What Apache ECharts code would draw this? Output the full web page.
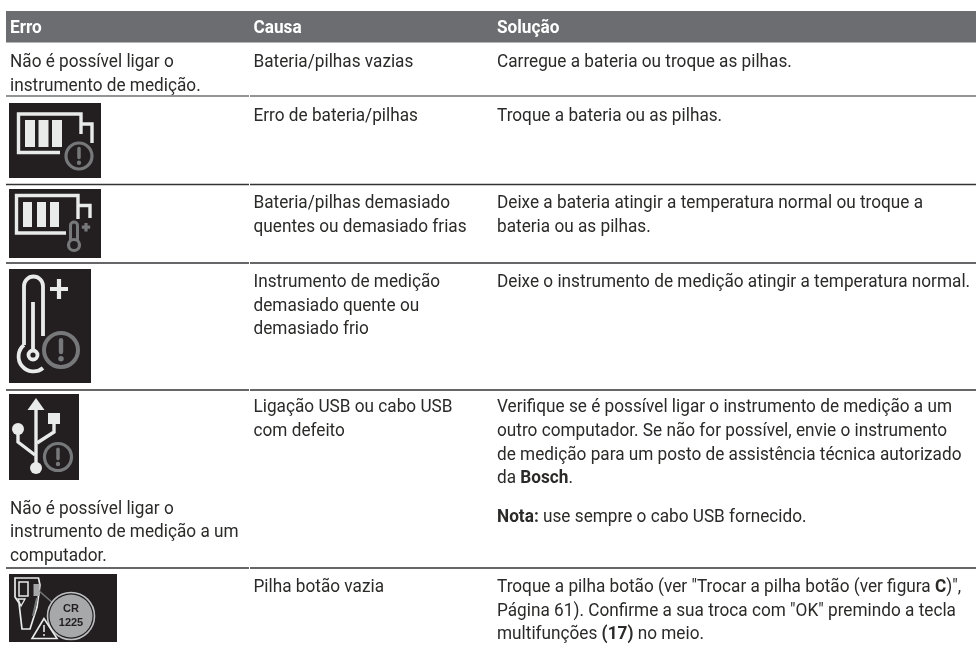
<!DOCTYPE html>
<html>
<head>
<meta charset="utf-8">
<title>Erro / Causa / Solução</title>
<script src="https://cdn.jsdelivr.net/npm/echarts@6/dist/echarts.min.js"></script>
<style>
html, body { margin: 0; padding: 0; background: #fff; }
#main { width: 976px; height: 645px; }
</style>
</head>
<body>
<div id="main"></div>
<script>
var headers = ['Erro', 'Causa', 'Solução'];
var errors = [
	'Não é possível ligar o\ninstrumento de medição.',
	'',
	'',
	'',
	'Não é possível ligar o\ninstrumento de medição a um\ncomputador.',
	''
];
var causes = [
	'Bateria/pilhas vazias',
	'Erro de bateria/pilhas',
	'Bateria/pilhas demasiado\nquentes ou demasiado frias',
	'Instrumento de medição\ndemasiado quente ou\ndemasiado frio',
	'Ligação USB ou cabo USB\ncom defeito',
	'Pilha botão vazia'
];
var solutions = [
	'Carregue a bateria ou troque as pilhas.',
	'Troque a bateria ou as pilhas.',
	'Deixe a bateria atingir a temperatura normal ou troque a\nbateria ou as pilhas.',
	'Deixe o instrumento de medição atingir a temperatura normal.',
	'Verifique se é possível ligar o instrumento de medição a um\noutro computador. Se não for possível, envie o instrumento\nde medição para um posto de assistência técnica autorizado\nda {b|Bosch}.',
	'Troque a pilha botão (ver "Trocar a pilha botão (ver figura {b|C})",\nPágina 61). Confirme a sua troca com "OK" premindo a tecla\nmultifunções {b|(17)} no meio.'
];
var usbNote = '{b|Nota:} use sempre o cabo USB fornecido.';

// layout
var colX = [10, 253.5, 497];
var ruleY = [96, 184.5, 263, 390, 568];
var rowTextY = [50.6, 104.6, 191.8, 270.8, 396, 575.6];
var errorTextY = { 0: 50.6, 4: 497.2 };
var LINE = 23.6;
var FONT = 'Roboto';
var SIZE = 18.5;
var SQUEEZE = 0.93;
var INK = '#2b2a29';
var LIGHT = '#e9eaea';
var GREY = '#77787a';
var DARK = '#231f20';

var gfx = [];   // text, through the graphic component
var marks = []; // band, rules and icons, through a custom series

function addText(x, y, str, fill, bold) {
	gfx.push({
		type: 'text', x: x, y: y, scaleX: SQUEEZE, originX: 0, z: 5,
		style: {
			text: str, x: 0, y: 0, fill: fill, fontFamily: FONT, fontSize: SIZE, fontWeight: bold ? 700 : 400,
			lineHeight: LINE, align: 'left', verticalAlign: 'top',
			rich: { b: { fontFamily: FONT, fontSize: SIZE, fontWeight: 700, lineHeight: LINE, fill: fill } }
		}
	});
}
function box(x, y, w, h, fill) {
	marks.push({ type: 'rect', shape: { x: x, y: y, width: w, height: h }, style: { fill: fill } });
}
function stroke(d, color, width, cap) {
	marks.push({ type: 'path', shape: { pathData: d }, style: { fill: 'none', stroke: color, lineWidth: width, lineCap: cap || 'butt', lineJoin: 'miter' } });
}
function solid(d, color) {
	marks.push({ type: 'path', shape: { pathData: d }, style: { fill: color } });
}
function ring(cx, cy, r, color, width, fill) {
	marks.push({ type: 'circle', shape: { cx: cx, cy: cy, r: r }, style: { fill: fill || 'none', stroke: color, lineWidth: width } });
}
function dot(cx, cy, r, color) {
	marks.push({ type: 'circle', shape: { cx: cx, cy: cy, r: r }, style: { fill: color } });
}
function warning(cx, cy, r, w) {
	ring(cx, cy, r, GREY, w, DARK);
	stroke('M' + cx + ' ' + (cy - r * 0.58) + 'L' + cx + ' ' + (cy + r * 0.12), GREY, w * 1.1, 'round');
	dot(cx, cy + r * 0.52, w * 0.68, GREY);
}

// header band and rules
box(6, 11, 970, 31, '#6b6d70');
box(6, 42, 970, 1, '#b5b6b8');
ruleY.forEach(function (y, i) {
	var c = i === 0 ? '#6f7072' : '#333234';
	box(6, y - 0.75, 243, 1.5, c);
	box(250, y - 0.75, 726, 1.5, c);
});

headers.forEach(function (h, i) {
	addText(colX[i], 17, h, '#ffffff', true);
});
errors.forEach(function (t, i) {
	if (t) addText(colX[0], errorTextY[i], t, INK);
});
causes.forEach(function (t, i) {
	addText(colX[1], rowTextY[i], t, INK);
});
solutions.forEach(function (t, i) {
	addText(colX[2], rowTextY[i], t, INK);
});
addText(colX[2], 505.6, usbNote, INK);

// icon: battery error
box(9, 103, 92, 75, DARK);
stroke('M60 152.5H18.5V114H81V134', LIGHT, 3.4);
stroke('M81 124H92V143', LIGHT, 3.4);
box(25, 120, 10, 27, LIGHT);
box(38.5, 120, 10, 27, LIGHT);
box(52, 120, 10, 27, LIGHT);
warning(79, 156, 13, 3.2);

// icon: battery temperature
box(9, 189, 92, 69, DARK);
stroke('M66 233H16.5V195.5H78V219', LIGHT, 3.4);
stroke('M78 205.5H90V218', LIGHT, 3.4);
box(23, 202, 9, 25, LIGHT);
box(37, 202, 9, 25, LIGHT);
box(50, 202, 9, 25, LIGHT);
stroke('M70.5 240V225.5A3.5 3.5 0 0 1 77.5 225.5V240', GREY, 3);
ring(74, 245, 5.5, GREY, 3.2);
stroke('M86 223V231.5M81.8 227.2H90.2', GREY, 3.2);

// icon: device temperature
box(9, 269, 82, 114, DARK);
stroke('M24 345V286A9.5 9.5 0 0 1 43 286V336', LIGHT, 3.8);
stroke('M24 345A14.5 14.5 0 0 0 43 368', LIGHT, 3.8);
stroke('M33 302V352', LIGHT, 3.8);
ring(33, 355, 4.5, LIGHT, 3.8, DARK);
stroke('M59 279V299M50 289H68', LIGHT, 4.2);
warning(61, 350, 17, 4);

// icon: usb
box(9, 394, 70, 86, DARK);
solid('M36 398L44.5 410H27.5Z', LIGHT);
stroke('M36 408V468', LIGHT, 3.4);
dot(36, 468, 6, LIGHT);
box(48, 413, 12, 11, LIGHT);
stroke('M54 423V432L37 443', LIGHT, 3.4);
dot(18, 429, 6, LIGHT);
stroke('M18 432V442L35 455', LIGHT, 3.4);
warning(58, 457, 13.5, 3.2);

// icon: coin cell
box(9, 574, 108, 68, DARK);
stroke('M15 578H38.5L40 585L37 607L30 629H22L19 603L15 597Z', LIGHT, 1.7);
stroke('M19 582H28V596H19Z', LIGHT, 1.5);
stroke('M18 599H25L21 606Z', LIGHT, 1.3);
stroke('M33 616L37 598', GREY, 2);
stroke('M38 590L54 604', GREY, 1.6);
box(33.5, 584, 6, 12, '#a6a7a9');
ring(71, 616, 23.5, '#bfc0c2', 1.6, DARK);
dot(71, 616, 21.5, '#a7a8aa');
stroke('M44 618.5L32 638.5H57Z', LIGHT, 1.6);
stroke('M44 625V632', LIGHT, 1.6);
dot(44, 635, 1, LIGHT);
gfx.push({
	type: 'text', x: 71, y: 616, z: 5,
	style: { text: 'CR\n1225', x: 0, y: 0, fill: DARK, fontFamily: 'Liberation Sans', fontWeight: 700, fontSize: 11, lineHeight: 14, align: 'center', verticalAlign: 'middle' }
});

var chart = echarts.init(document.getElementById('main'), null, { renderer: 'canvas' });
chart.setOption({
	backgroundColor: '#ffffff',
	animation: false,
	graphic: { elements: gfx },
	series: [{
		type: 'custom',
		coordinateSystem: 'none',
		silent: true,
		z: 1,
		data: [0],
		renderItem: function () {
			return { type: 'group', children: marks };
		}
	}]
});
</script>
</body>
</html>
